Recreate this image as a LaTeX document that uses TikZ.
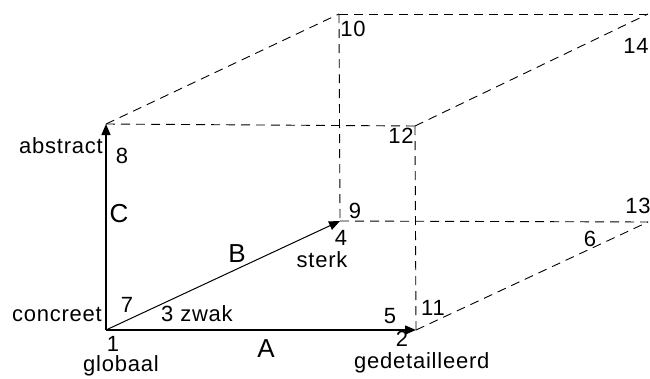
\documentclass[tikz,border=0pt]{standalone}
\usepackage{fontspec}
\setmainfont[LetterSpace=3.5]{Liberation Sans}
\usetikzlibrary{arrows.meta}
\begin{document}
\begin{tikzpicture}[x=1pt,y=-1pt,
  lbl/.style={inner sep=0pt, anchor=base, font=\fontsize{22}{22}\selectfont},
  big/.style={inner sep=0pt, anchor=base, font=\fontsize{26}{26}\selectfont},
  axis/.style={line width=1.5pt, -{Triangle[length=11pt,width=9pt]}},
  thinaxis/.style={line width=1pt, -{Triangle[length=11pt,width=9pt]}},
  hid/.style={line width=0.9pt, dash pattern=on 9pt off 6pt}]
\useasboundingbox (0,0) rectangle (650,378);
% vertices
\coordinate (v1) at (106,330);
\coordinate (v2) at (416,330);
\coordinate (v12) at (415,126);
\coordinate (v8) at (106,124);
\coordinate (v4) at (340,221);
\coordinate (v13) at (648,222);
\coordinate (v14) at (648,14);
\coordinate (v10) at (339,14);
% hidden edges
\draw[hid] (v8) -- (v10);
\draw[hid] (v10) -- (v14);
\draw[hid] (v8) -- (v12);
\draw[hid] (v12) -- (v14);
\draw[hid] (v10) -- (v4);
\draw[hid] (v4) -- (v13);
\draw[hid] (v12) -- (v2);
\draw[hid] (v2) -- (v13);
% axes
\draw[axis] (v1) -- (v8);
\draw[axis] (v1) -- (v2);
\draw[thinaxis] (v1) -- (v4);
% labels
\node[lbl, anchor=base east] (tabstract) at (103,153) {abstract};
\node[lbl] (t8) at (122,163) {8};
\node[big] (tC) at (119,222) {C};
\node[lbl, anchor=base east] (tconcreet) at (102,321) {concreet};
\node[lbl] (t7) at (127,312) {7};
\node[lbl, anchor=base west] (tzwak) at (161,321) {3 zwak};
\node[lbl] (t1) at (113,351) {1};
\node[lbl] (tglobaal) at (121,371) {globaal};
\node[big] (tA) at (266,357) {A};
\node[big] (tB) at (237,262) {B};
\node[lbl] (tsterk) at (322,267) {sterk};
\node[lbl] (t4) at (341,245) {4};
\node[lbl] (t9) at (355,218) {9};
\node[lbl] (t5) at (390,323) {5};
\node[lbl] (t11) at (433,315) {11};
\node[lbl] (t2) at (402,346) {2};
\node[lbl, anchor=base west] (tged) at (354,368) {gedetailleerd};
\node[lbl] (t12) at (401,143) {12};
\node[lbl] (t10) at (353,36) {10};
\node[lbl] (t14) at (636,53) {14};
\node[lbl] (t13) at (638,213) {13};
\node[lbl] (t6) at (590,246) {6};
\end{tikzpicture}
\end{document}
